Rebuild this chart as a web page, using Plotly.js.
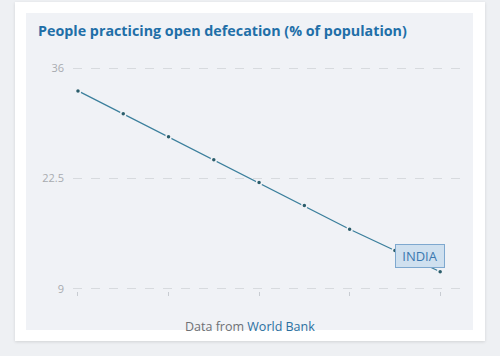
<!DOCTYPE html>
<html>
<head>
<meta charset="utf-8">
<script src="https://cdn.plot.ly/plotly-3.0.1.min.js"></script>
<style>
  html, body { margin:0; padding:0; background:#eef0f3; width:500px; height:356px; overflow:hidden; }
  #card { position:absolute; left:15px; top:2px; width:470px; height:339px; background:#ffffff; box-shadow:0 1px 3px rgba(0,0,0,0.12); }
  #panel { position:absolute; left:26px; top:13px; width:447px; height:317px; background:#f0f2f6; }
  #chart { position:absolute; left:0; top:0; width:500px; height:356px; }
</style>
</head>
<body>
<div id="card"></div>
<div id="panel"></div>
<div id="chart"></div>
<script>
const years = [2007, 2008, 2009, 2010, 2011, 2012, 2013, 2014, 2015];
const values = [33.2, 30.4, 27.6, 24.8, 22.0, 19.2, 16.3, 13.7, 11.1];
const yTicks = [9, 22.5, 36];
const xTicks = [2007, 2009, 2011, 2013, 2015];
const seriesLabel = 'INDIA';

// plot area: y 36 -> px 68, y 9 -> px 289 ; extend range a bit so edge gridlines show
const pxPerUnit = (289 - 68) / 27;
const pad = 0.25;
const padPx = pad * pxPerUnit;

const trace = {
  x: years, y: values, type: 'scatter', mode: 'lines+markers',
  line: { color: '#3b7f9c', width: 1.3 },
  marker: { color: '#2b5d6b', size: 5, line: { color: '#f0f2f6', width: 1.5 } },
  hoverinfo: 'skip', showlegend: false
};

const layout = {
  width: 500, height: 356,
  paper_bgcolor: 'rgba(0,0,0,0)', plot_bgcolor: 'rgba(0,0,0,0)',
  margin: { l: 73, r: 39, t: 68 - padPx, b: 67 - padPx },
  font: { family: 'Open Sans, sans-serif' },
  xaxis: {
    range: [years[0] - 0.11, years[years.length - 1] + 0.46],
    tickvals: xTicks, showticklabels: false,
    ticks: 'outside', ticklen: 4, tickcolor: '#c8ccd2', tickwidth: 1,
    showgrid: false, zeroline: false, showline: false, fixedrange: true
  },
  yaxis: {
    range: [9 - pad, 36 + pad], tickvals: yTicks, ticktext: ['9', '22.5', '36'],
    tickfont: { size: 11, color: '#a8abb0' },
    showgrid: true, gridcolor: '#d7dade', griddash: 'dash', gridwidth: 1,
    zeroline: false, showline: false, ticks: '', ticklabelstandoff: 8, fixedrange: true
  },
  title: {
    text: '<b>People practicing open defecation (% of population)</b>',
    font: { size: 14.3, color: '#1f6fa8', family: 'Open Sans, sans-serif' },
    x: 38 / 500, xanchor: 'left', xref: 'container',
    y: 1 - 31 / 356, yanchor: 'middle', yref: 'container'
  },
  annotations: [
    {
      x: years[7], y: values[7], xref: 'x', yref: 'y',
      text: seriesLabel, showarrow: true, arrowcolor: 'rgba(0,0,0,0)',
      ax: 25, ay: 5, xanchor: 'center', yanchor: 'middle',
      width: 42, height: 16,
      font: { size: 13, color: '#3a78b0' },
      bgcolor: '#cfe0ef', bordercolor: '#7ea8cf', borderwidth: 1, borderpad: 3
    },
    {
      xref: 'paper', yref: 'paper', x: (250 - 73) / 388, y: -(322 - 289 + padPx) / (221 + 2 * padPx),
      xanchor: 'center', yanchor: 'middle', showarrow: false,
      text: '<span style="color:#6e7074">Data from </span><span style="color:#2a6fa0">World Bank</span>',
      font: { size: 12.5 }
    }
  ]
};

Plotly.newPlot('chart', [trace], layout, { displayModeBar: false, staticPlot: true });
</script>
</body>
</html>
